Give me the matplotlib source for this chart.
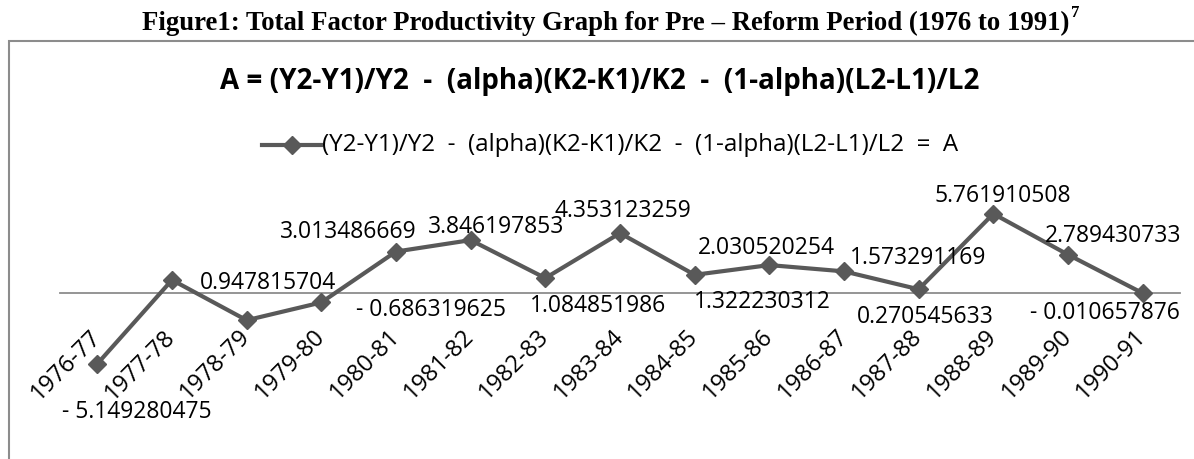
import matplotlib
matplotlib.use('Agg')
import matplotlib.pyplot as plt
from matplotlib.lines import Line2D
from matplotlib.patches import Rectangle

# data
periods = ['1976-77', '1977-78', '1978-79', '1979-80', '1980-81', '1981-82',
           '1982-83', '1983-84', '1984-85', '1985-86', '1986-87', '1987-88',
           '1988-89', '1989-90', '1990-91']
tfp = [-5.149280475, 0.947815704, -1.98, -0.686319625, 3.013486669,
       3.846197853, 1.084851986, 4.353123259, 1.322230312, 2.030520254,
       1.573291169, 0.270545633, 5.761910508, 2.789430733, -0.010657876]
show_label = [True, True, False] + [True] * 12
# label offsets (pixels) from each point, as in the source chart
label_off = [(39, -48), (96, -3), (0, 0), (110, -8), (-48, 20), (25, 13),
             (53, -28), (3, 22), (68, -27), (-3, 17), (74, 13), (7, -28),
             (9, 18), (45, 19), (-38, -20)]

W, H = 1194, 459
fig = plt.figure(figsize=(W / 100, H / 100), dpi=100)

# axes placed in pixel units
ax_l, ax_r, ax_top, ax_bot = 60, 1180, 190, 380
zero_y, ppu = 293, 13.75
ax = fig.add_axes([ax_l / W, 1 - ax_bot / H, (ax_r - ax_l) / W, (ax_bot - ax_top) / H])
ax.set_ylim(-(ax_bot - zero_y) / ppu, (zero_y - ax_top) / ppu)
ax.set_xlim(-0.5, len(periods) - 0.5)
ax.patch.set_alpha(0)

fnt = 'Open Sans'
gray = '#595959'
x = list(range(len(periods)))
ax.plot(x, tfp, color=gray, lw=3, marker='D', ms=9.5, zorder=3)

for i, v in enumerate(tfp):
    if not show_label[i]:
        continue
    s = ('- %.9f' % abs(v)) if v < 0 else ('%.9f' % v)
    ax.annotate(s, (i, v), xytext=label_off[i], textcoords='offset pixels',
                ha='center', va='center', fontsize=16.5, family=fnt, color='black')

for sp in ['top', 'right', 'left']:
    ax.spines[sp].set_visible(False)
ax.spines['bottom'].set_position(('data', 0))
ax.spines['bottom'].set_color('#8c8c8c')
ax.spines['bottom'].set_linewidth(1.3)
ax.set_yticks([])
ax.set_xticks(x)
ax.set_xticklabels(periods, rotation=45, ha='right', va='center',
                   rotation_mode='anchor', fontsize=17, family=fnt)
ax.tick_params(axis='x', length=0, pad=29)

# chart border (top and left edges visible)
fig.patches.append(Rectangle((9 / W, -0.1), 1.2, 1.1 - 41 / H, transform=fig.transFigure,
                             fill=False, ec='#8c8c8c', lw=1.5))

# page caption
cap = fig.text(606 / W, 1 - 23 / H, 'Figure1: Total Factor Productivity Graph for Pre \u2013 Reform Period (1976 to 1991)',
               ha='center', va='center', family='Liberation Serif', weight='bold', fontsize=19.3)
fig.canvas.draw()
bb = cap.get_window_extent()
fig.text(bb.x1 / W + 0.001, bb.y1 / H - 0.006, '7', ha='left', va='center',
         family='Liberation Serif', weight='bold', fontsize=12)

fig.text(600 / W, 1 - 82 / H, 'A = (Y2-Y1)/Y2  -  (alpha)(K2-K1)/K2  -  (1-alpha)(L2-L1)/L2',
         ha='center', va='center', family=fnt, weight='bold', fontsize=20)

# legend
leg_y = 1 - 145 / H
fig.lines.append(Line2D([262 / W, 321 / W], [leg_y, leg_y], transform=fig.transFigure,
                        color=gray, lw=3))
fig.lines.append(Line2D([291.5 / W], [leg_y], transform=fig.transFigure,
                        color=gray, marker='D', ms=9.5))
fig.text(322 / W, leg_y, '(Y2-Y1)/Y2  -  (alpha)(K2-K1)/K2  -  (1-alpha)(L2-L1)/L2  =  A',
         ha='left', va='center', family=fnt, fontsize=17.4)

fig.savefig('out.png', dpi=100)
